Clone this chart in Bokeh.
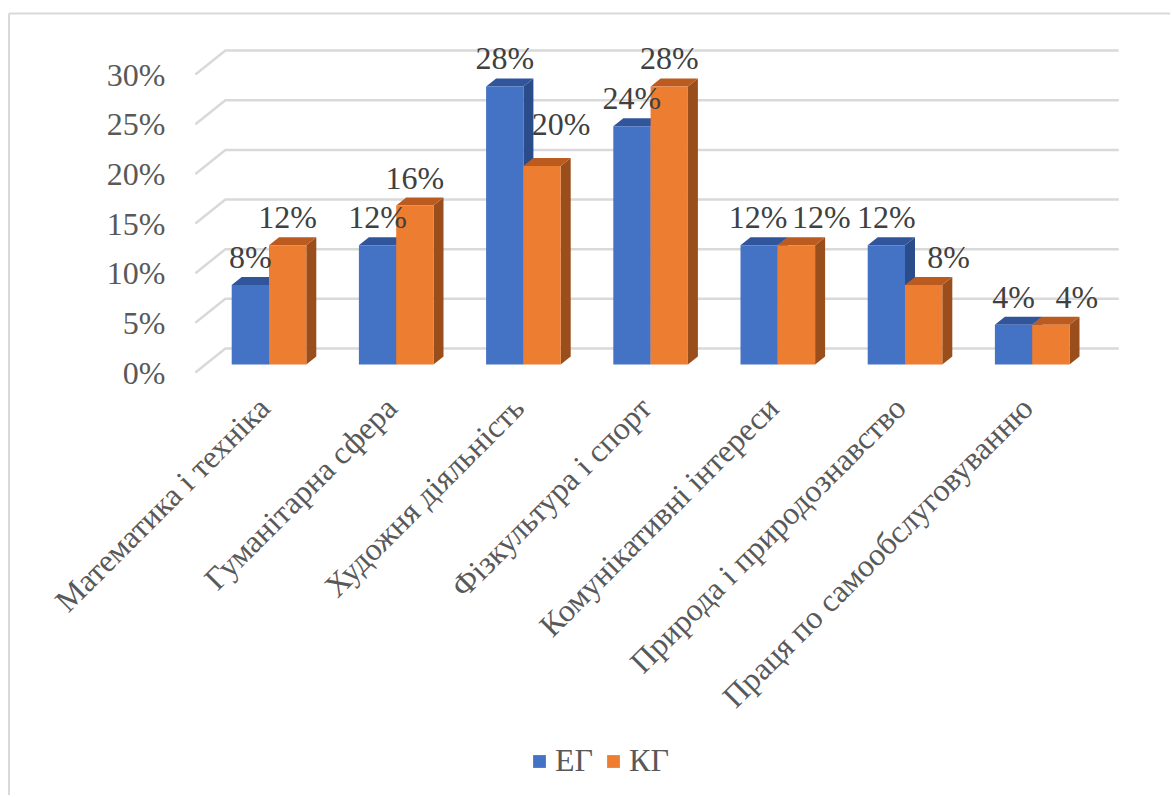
import math
from bokeh.plotting import figure
from bokeh.models import Legend, LegendItem
from bokeh.core.properties import value
from bokeh.embed import file_html
from bokeh.resources import INLINE

# ---------------- data ----------------
categories = ["Математика і техніка", "Гуманітарна сфера", "Художня діяльність",
              "Фізкультура і спорт", "Комунікативні інтереси",
              "Природа і природознавство", "Праця по самообслуговуванню"]
series_names = ["ЕГ", "КГ"]
eg_values = [0.08, 0.12, 0.28, 0.24, 0.12, 0.12, 0.04]
kg_values = [0.12, 0.16, 0.20, 0.28, 0.12, 0.08, 0.04]
y_ticks = [0.0, 0.05, 0.10, 0.15, 0.20, 0.25, 0.30]
y_tick_labels = ["0%", "5%", "10%", "15%", "20%", "25%", "30%"]

# label nudges in screen px (dx, dy) to mimic the original label placement
eg_label_nudge = [(0, 0), (0, 0), (0, 0), (0, 0), (-1, 0), (0, 0), (0, 0)]
kg_label_nudge = [(0, 0), (0, 0), (19, -14), (0, 0), (25, 0), (25, 0), (26, 0)]

# ---------------- geometry / style ----------------
W_CAN, H_CAN = 1170, 795
SX = 127.2                        # px per category
SY = 993.0                        # px per unit value
X0_PAGE = 258.5                   # page x of category 0 (front plane)
Y0_PAGE = 372.0                   # page y of value 0 (front plane)

def px2x(px):
    return (px - X0_PAGE) / SX

def px2y(py):
    return (Y0_PAGE - py) / SY

def dx(px):
    return px / SX

def dy(px):
    return px / SY

x_start, x_end = px2x(0), px2x(W_CAN)
y_start, y_end = px2y(H_CAN), px2y(0)

DEPTH_X = dx(30)      # full floor depth, horizontal shift
DEPTH_Y = dy(24)      # full floor depth, vertical shift
D1, D2 = 1 / 3, 2 / 3  # bar front / back depth fractions
BAR_W = dx(37.3)

FONT = "'Liberation Serif', 'Times New Roman', serif"
FS = "32px"
GRID = "#d9d9d9"
TXT = "#595959"
LBL = "#404040"
front_cols = ["#4472c4", "#ed7d31"]
top_cols = ["#30559b", "#bb5b1f"]
side_cols = ["#2b4c8a", "#9a4e1c"]

p = figure(width=W_CAN, height=H_CAN, x_range=(x_start, x_end), y_range=(y_start, y_end),
           output_backend="svg", toolbar_location=None, min_border=0,
           min_border_left=0, min_border_right=0, min_border_top=0, min_border_bottom=0)
p.axis.visible = False
p.grid.visible = False
p.outline_line_color = None
p.background_fill_color = "white"
p.border_fill_color = "white"

# outer chart border (left and top visible)
bx = px2x(8.5)
by = px2y(13)
p.line([bx, bx], [y_start - 1, by], line_color=GRID, line_width=2)
p.line([bx, x_end + 1], [by, by], line_color=GRID, line_width=2)

# back-wall gridlines + left diagonal floor/wall edges
n = len(categories)
gx, gy = [], []
for v in y_ticks:
    gx.append([-0.5, -0.5 + DEPTH_X, n - 0.5 + DEPTH_X + dx(3)])
    gy.append([v, v + DEPTH_Y, v + DEPTH_Y])
p.multi_line(gx, gy, line_color=GRID, line_width=2.5)

# y tick labels (front plane)
p.text(x=[-0.5 - dx(30)] * len(y_ticks), y=y_ticks, text=y_tick_labels,
       text_font=value(FONT), text_font_size=FS, text_color=TXT,
       text_align="right", text_baseline="middle")

# bars (3D look: side, top, front faces)
all_vals = [eg_values, kg_values]
a1x, a1y = D1 * DEPTH_X, D1 * DEPTH_Y
a2x, a2y = D2 * DEPTH_X, D2 * DEPTH_Y
front_r = [None, None]
for i in range(n):
    for s in range(2):
        v = all_vals[s][i]
        x0 = i - BAR_W + s * BAR_W
        x1 = x0 + BAR_W
        p.patch([x1 + a1x, x1 + a2x, x1 + a2x, x1 + a1x],
                [a1y, a2y, v + a2y, v + a1y], fill_color=side_cols[s], line_color=None)
        p.patch([x0 + a1x, x1 + a1x, x1 + a2x, x0 + a2x],
                [v + a1y, v + a1y, v + a2y, v + a2y], fill_color=top_cols[s], line_color=None)
        r = p.patch([x0 + a1x, x1 + a1x, x1 + a1x, x0 + a1x],
                    [a1y, a1y, v + a1y, v + a1y], fill_color=front_cols[s], line_color=None)
        if front_r[s] is None:
            front_r[s] = r

# data labels
lx, ly, lt = [], [], []
for s, vals in enumerate(all_vals):
    nudges = eg_label_nudge if s == 0 else kg_label_nudge
    for i, v in enumerate(vals):
        xc = i - BAR_W + s * BAR_W + BAR_W / 2 + a1x
        ndx, ndy = nudges[i]
        lx.append(xc + dx(ndx))
        ly.append(v + a1y + dy(28) - dy(ndy))
        lt.append(f"{round(v * 100)}%")
p.text(x=lx, y=ly, text=lt, text_font=value(FONT), text_font_size=FS,
       text_color=LBL, text_align="center", text_baseline="middle")

# category labels (rotated 45°)
p.text(x=[i + dx(5) for i in range(n)], y=[px2y(402)] * n, text=categories,
       angle=math.pi / 4, text_font=value(FONT), text_font_size=FS,
       text_color=TXT, text_align="right", text_baseline="middle")

# legend
legend = Legend(items=[LegendItem(label=series_names[0], renderers=[front_r[0]]),
                       LegendItem(label=series_names[1], renderers=[front_r[1]])],
                orientation="horizontal", location=(531, 16),
                glyph_width=16, glyph_height=16, label_standoff=8, spacing=12,
                padding=0, margin=0, border_line_color=None,
                background_fill_alpha=0,
                label_text_font=FONT, label_text_font_size=FS,
                label_text_color=TXT)
p.add_layout(legend, "center")

open("out.html", "w").write(file_html(p, INLINE))
